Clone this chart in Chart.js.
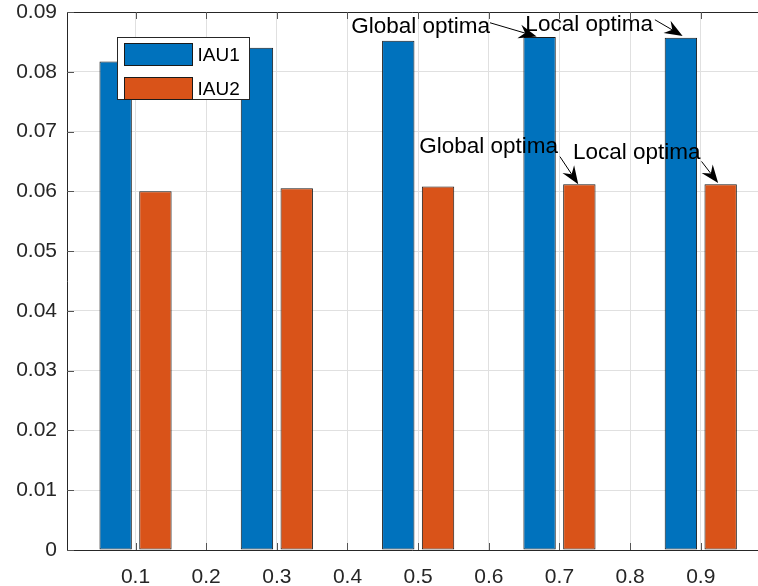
<!DOCTYPE html>
<html>

<head>
    <meta charset="utf-8">
    <title>IAU1 / IAU2 bars</title>
    <script src="https://cdn.jsdelivr.net/npm/chart.js"></script>
    <style>
        body {
            margin: 0;
            padding: 0;
            background: #fff;
            overflow: hidden;
        }

        .wrap {
            width: 758px;
            height: 586px;
        }
    </style>
</head>

<body>
    <div class="wrap"><canvas id="barGraph" width="758" height="586"></canvas></div>

    <script>
        // data
        const xPos = [0.1, 0.3, 0.5, 0.7, 0.9];
        const iau1 = [0.0817, 0.0840, 0.0852, 0.0858, 0.0857];
        const iau2 = [0.0600, 0.0605, 0.0608, 0.0612, 0.0612];
        const seriesNames = ['IAU1', 'IAU2'];
        const seriesColors = ['#0072BD', '#D95319'];

        // axis ticks / limits
        const xTicks = [0.1, 0.2, 0.3, 0.4, 0.5, 0.6, 0.7, 0.8, 0.9];
        const yTicks = [0, 0.01, 0.02, 0.03, 0.04, 0.05, 0.06, 0.07, 0.08, 0.09];
        const xLimits = [0.003, 0.981];
        const yLimits = [0, 0.09];

        // text arrows, in data units: text end (tx,ty baseline), arrow tail (fx,fy), arrow tip (px,py)
        const notes = [
            { text: 'Global optima', tx: 0.6017, ty: 0.0865, fx: 0.6017, fy: 0.0882, px: 0.6677, py: 0.0859 },
            { text: 'Local optima', tx: 0.8323, ty: 0.0869, fx: 0.8351, fy: 0.0887, px: 0.8743, py: 0.0860 },
            { text: 'Global optima', tx: 0.6979, ty: 0.0664, fx: 0.7007, fy: 0.0658, px: 0.7266, py: 0.0612 },
            { text: 'Local optima', tx: 0.8997, ty: 0.0654, fx: 0.9011, fy: 0.0650, px: 0.9246, py: 0.0614 }
        ];

        const FONT = '"Liberation Sans", Arial, sans-serif';
        const AXIS = '#262626';

        // axis box + inward tick marks like matlab
        const boxPlugin = {
            id: 'box',
            afterDatasetsDraw(chart) {
                const { ctx, chartArea: a, scales } = chart;
                ctx.save();
                ctx.strokeStyle = AXIS;
                ctx.lineWidth = 1;
                ctx.beginPath();
                ctx.moveTo(a.left + 0.5, a.top + 0.5);
                ctx.lineTo(a.right, a.top + 0.5);
                ctx.moveTo(a.left + 0.5, a.top);
                ctx.lineTo(a.left + 0.5, a.bottom + 0.5);
                ctx.lineTo(a.right, a.bottom + 0.5);
                ctx.stroke();

                ctx.strokeStyle = '#555';
                ctx.beginPath();
                xTicks.forEach(v => {
                    const x = Math.round(scales.x.getPixelForValue(v)) + 0.5;
                    ctx.moveTo(x, a.bottom); ctx.lineTo(x, a.bottom - 7);
                    ctx.moveTo(x, a.top); ctx.lineTo(x, a.top + 7);
                });
                yTicks.forEach(v => {
                    const y = Math.round(scales.y.getPixelForValue(v)) + 0.5;
                    ctx.moveTo(a.left, y); ctx.lineTo(a.left + 7, y);
                });
                ctx.stroke();
                ctx.restore();
            }
        };

        function drawArrow(ctx, x0, y0, x1, y1) {
            const ang = Math.atan2(y1 - y0, x1 - x0);
            const len = 18, half = 7, notch = 12;
            const cos = Math.cos(ang), sin = Math.sin(ang);
            const bx = x1 - len * cos, by = y1 - len * sin;
            const nx = x1 - notch * cos, ny = y1 - notch * sin;
            ctx.beginPath();
            ctx.moveTo(x0, y0);
            ctx.lineTo(nx, ny);
            ctx.stroke();
            ctx.beginPath();
            ctx.moveTo(x1, y1);
            ctx.lineTo(bx - half * sin, by + half * cos);
            ctx.lineTo(nx, ny);
            ctx.lineTo(bx + half * sin, by - half * cos);
            ctx.closePath();
            ctx.fill();
        }

        const notesPlugin = {
            id: 'notes',
            afterDraw(chart) {
                const { ctx, scales } = chart;
                const sx = scales.x, sy = scales.y;
                ctx.save();
                ctx.fillStyle = '#000';
                ctx.strokeStyle = '#000';
                ctx.lineWidth = 1;
                ctx.font = '22.5px ' + FONT;
                ctx.textAlign = 'right';
                ctx.textBaseline = 'alphabetic';
                notes.forEach(n => {
                    ctx.fillText(n.text, sx.getPixelForValue(n.tx), sy.getPixelForValue(n.ty));
                    drawArrow(ctx, sx.getPixelForValue(n.fx), sy.getPixelForValue(n.fy),
                        sx.getPixelForValue(n.px), sy.getPixelForValue(n.py));
                });
                ctx.restore();
            }
        };

        // legend box inside the axes, top left
        const legendPlugin = {
            id: 'boxLegend',
            afterDraw(chart) {
                const { ctx, chartArea: a } = chart;
                const x = a.left + 50.5, y = a.top + 25.5, w = 132, h = 62;
                ctx.save();
                ctx.fillStyle = '#fff';
                ctx.fillRect(x, y, w, h);
                ctx.strokeStyle = AXIS;
                ctx.lineWidth = 1;
                ctx.strokeRect(x, y, w, h);
                ctx.font = '19px ' + FONT;
                ctx.textBaseline = 'middle';
                ctx.textAlign = 'left';
                seriesNames.forEach((name, i) => {
                    const sy = y + 6 + i * 34;
                    ctx.fillStyle = seriesColors[i];
                    ctx.fillRect(x + 7, sy, 68, 22);
                    ctx.strokeStyle = '#1a1a1a';
                    ctx.strokeRect(x + 7, sy, 68, 22);
                    ctx.fillStyle = '#000';
                    ctx.fillText(name, x + 80, sy + 12);
                });
                ctx.restore();
            }
        };

        const bars = new Chart(document.getElementById('barGraph').getContext('2d'), {
            type: 'bar',
            data: {
                datasets: [iau1, iau2].map((vals, i) => ({
                    label: seriesNames[i],
                    data: xPos.map((x, j) => ({ x: x, y: vals[j] })),
                    backgroundColor: seriesColors[i],
                    borderColor: '#1a1a1a',
                    borderWidth: 1,
                    borderSkipped: false,
                    categoryPercentage: 1.126,
                    barPercentage: 0.814
                }))
            },
            options: {
                responsive: false,
                animation: false,
                layout: { padding: { top: 12, left: 0, right: 0, bottom: 0 } },
                plugins: {
                    legend: { display: false },
                    tooltip: { enabled: false }
                },
                scales: {
                    x: {
                        type: 'linear',
                        min: xLimits[0],
                        max: xLimits[1],
                        offset: false,
                        afterBuildTicks: s => { s.ticks = xTicks.map(v => ({ value: v })); },
                        afterFit: s => { s.height = 36; s.paddingLeft = 0; s.paddingRight = 0; },
                        grid: { offset: false, color: '#e0e0e0', drawTicks: false },
                        border: { display: false },
                        ticks: {
                            maxRotation: 0,
                            autoSkip: false,
                            padding: 15,
                            color: AXIS,
                            font: { family: FONT, size: 21 },
                            callback: v => String(+v.toFixed(2))
                        }
                    },
                    y: {
                        min: yLimits[0],
                        max: yLimits[1],
                        afterBuildTicks: s => { s.ticks = yTicks.map(v => ({ value: v })); },
                        afterFit: s => { s.width = 67; s.paddingTop = 0; s.paddingBottom = 0; },
                        grid: { color: '#e0e0e0', drawTicks: false },
                        border: { display: false },
                        ticks: {
                            padding: 10,
                            color: AXIS,
                            font: { family: FONT, size: 21, lineHeight: 1 },
                            callback: v => String(+v.toFixed(2))
                        }
                    }
                }
            },
            plugins: [boxPlugin, notesPlugin, legendPlugin]
        });
    </script>
</body>

</html>
